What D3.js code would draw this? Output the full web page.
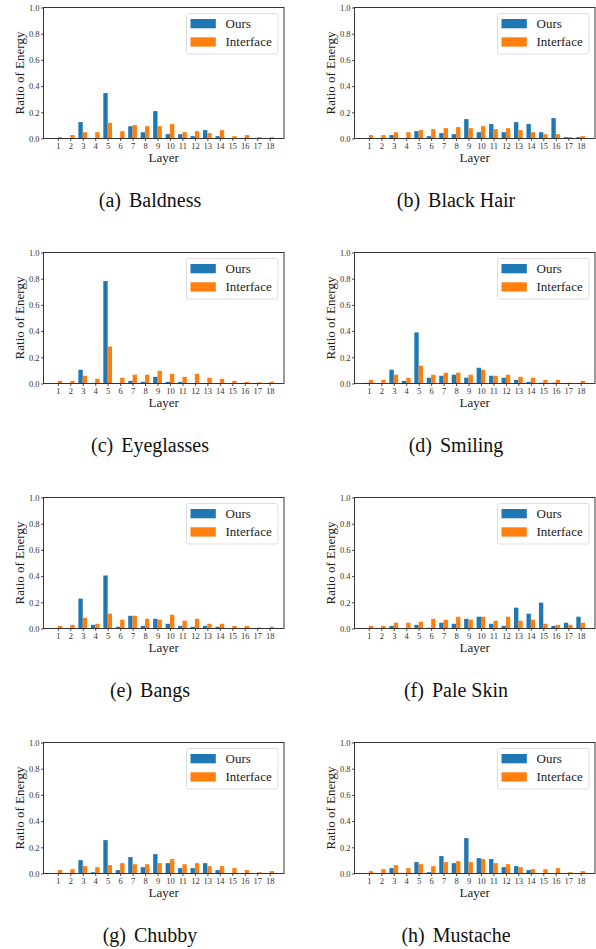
<!DOCTYPE html>
<html>
<head>
<meta charset="utf-8">
<script src="https://cdn.jsdelivr.net/npm/d3@7"></script>
<style>
  body { margin: 0; background: #fff; }
  svg { display: block; }
  text { font-family: "Liberation Serif", "Times New Roman", serif; }
</style>
</head>
<body>
<svg id="chart" width="596" height="949"></svg>
<script>
// layers 1..18
var layers = d3.range(1, 19);
var yTicks = [0, 0.2, 0.4, 0.6, 0.8, 1.0];
var seriesNames = ['Ours', 'Interface'];

// values, one pair of arrays per attribute
var oursBaldness      = [0.002, 0.002, 0.125, 0.003, 0.347, 0.002, 0.094, 0.048, 0.209, 0.033, 0.033, 0.018, 0.064, 0.018, 0.002, 0.002, 0.003, 0.002];
var interfaceBaldness = [0.010, 0.026, 0.048, 0.048, 0.120, 0.056, 0.102, 0.094, 0.094, 0.110, 0.048, 0.056, 0.041, 0.064, 0.018, 0.026, 0.010, 0.010];

var oursBlackHair      = [0.002, 0.003, 0.026, 0.003, 0.056, 0.018, 0.041, 0.033, 0.148, 0.048, 0.110, 0.048, 0.125, 0.110, 0.048, 0.156, 0.010, 0.010];
var interfaceBlackHair = [0.026, 0.026, 0.048, 0.048, 0.064, 0.071, 0.079, 0.087, 0.079, 0.094, 0.071, 0.079, 0.064, 0.048, 0.033, 0.033, 0.010, 0.018];

var oursEyeglasses      = [0.003, 0.003, 0.105, 0.005, 0.782, 0.003, 0.020, 0.013, 0.051, 0.013, 0.013, 0.003, 0.004, 0.003, 0.003, 0.003, 0.003, 0.003];
var interfaceEyeglasses = [0.020, 0.020, 0.059, 0.036, 0.282, 0.044, 0.067, 0.067, 0.097, 0.074, 0.051, 0.074, 0.044, 0.036, 0.020, 0.013, 0.008, 0.013];

var oursSmiling      = [0.005, 0.003, 0.105, 0.020, 0.390, 0.044, 0.059, 0.067, 0.044, 0.120, 0.059, 0.044, 0.028, 0.013, 0.006, 0.006, 0.004, 0.004];
var interfaceSmiling = [0.028, 0.028, 0.067, 0.044, 0.136, 0.067, 0.082, 0.082, 0.067, 0.105, 0.059, 0.067, 0.051, 0.044, 0.028, 0.028, 0.006, 0.020];

var oursBangs      = [0.003, 0.003, 0.228, 0.028, 0.405, 0.013, 0.097, 0.020, 0.074, 0.036, 0.020, 0.013, 0.020, 0.013, 0.003, 0.003, 0.004, 0.003];
var interfaceBangs = [0.020, 0.028, 0.082, 0.036, 0.113, 0.067, 0.097, 0.074, 0.067, 0.105, 0.059, 0.074, 0.036, 0.036, 0.020, 0.020, 0.008, 0.013];

var oursPaleSkin      = [0.002, 0.003, 0.020, 0.003, 0.028, 0.006, 0.044, 0.036, 0.074, 0.090, 0.036, 0.020, 0.159, 0.113, 0.197, 0.020, 0.044, 0.090];
var interfacePaleSkin = [0.020, 0.020, 0.044, 0.044, 0.051, 0.074, 0.067, 0.090, 0.067, 0.090, 0.059, 0.090, 0.059, 0.067, 0.036, 0.028, 0.028, 0.044];

var oursChubby      = [0.002, 0.002, 0.102, 0.010, 0.255, 0.026, 0.125, 0.048, 0.148, 0.079, 0.041, 0.041, 0.079, 0.026, 0.002, 0.002, 0.002, 0.002];
var interfaceChubby = [0.026, 0.033, 0.056, 0.048, 0.064, 0.079, 0.071, 0.071, 0.079, 0.110, 0.071, 0.079, 0.056, 0.056, 0.041, 0.026, 0.010, 0.018];

var oursMustache      = [0.002, 0.002, 0.041, 0.002, 0.087, 0.010, 0.133, 0.079, 0.270, 0.117, 0.110, 0.048, 0.056, 0.026, 0.002, 0.002, 0.002, 0.002];
var interfaceMustache = [0.018, 0.033, 0.064, 0.041, 0.071, 0.056, 0.087, 0.094, 0.087, 0.110, 0.079, 0.071, 0.048, 0.033, 0.033, 0.041, 0.010, 0.018];

var panels = [
  { tag: '(a)', name: 'Baldness',   ours: oursBaldness,   other: interfaceBaldness },
  { tag: '(b)', name: 'Black Hair', ours: oursBlackHair,  other: interfaceBlackHair },
  { tag: '(c)', name: 'Eyeglasses', ours: oursEyeglasses, other: interfaceEyeglasses },
  { tag: '(d)', name: 'Smiling',    ours: oursSmiling,    other: interfaceSmiling },
  { tag: '(e)', name: 'Bangs',      ours: oursBangs,      other: interfaceBangs },
  { tag: '(f)', name: 'Pale Skin',  ours: oursPaleSkin,   other: interfacePaleSkin },
  { tag: '(g)', name: 'Chubby',     ours: oursChubby,     other: interfaceChubby },
  { tag: '(h)', name: 'Mustache',   ours: oursMustache,   other: interfaceMustache }
];

var color = d3.scaleOrdinal().domain(seriesNames).range(['#1f77b4', '#ff7f0e']);

var svg = d3.select('#chart');

// plot geometry
var plotW = 240.5, plotH = 131;
var colLeft = [43.5, 354.5];
var captionX = [150, 456];
var rowTop = 7.5, rowStep = 245;
var barW = 0.35;

var x = d3.scaleLinear().domain([-0.15, 19.15]).range([0, plotW]);
var y = d3.scaleLinear().domain([0, 1]).range([plotH, 0]);

panels.forEach(function(p, k) {
  var col = k % 2, row = Math.floor(k / 2);
  var g = svg.append('g')
    .attr('transform', 'translate(' + colLeft[col] + ',' + (rowTop + row * rowStep) + ')');

  // bars: Ours left of the tick, Interface right of it
  g.selectAll('rect.ours')
    .data(p.ours)
    .enter().append('rect')
    .attr('x', function(d, i) { return x(layers[i] - barW); })
    .attr('width', x(barW) - x(0))
    .attr('y', function(d) { return y(d); })
    .attr('height', function(d) { return y(0) - y(d); })
    .attr('fill', color('Ours'));

  g.selectAll('rect.other')
    .data(p.other)
    .enter().append('rect')
    .attr('x', function(d, i) { return x(layers[i]); })
    .attr('width', x(barW) - x(0))
    .attr('y', function(d) { return y(d); })
    .attr('height', function(d) { return y(0) - y(d); })
    .attr('fill', color('Interface'));

  // axes
  var xAxis = g.append('g')
    .attr('transform', 'translate(0,' + plotH + ')')
    .call(d3.axisBottom(x).tickValues(layers).tickFormat(d3.format('d')).tickSize(2.5).tickPadding(1.5));
  var yAxis = g.append('g')
    .call(d3.axisLeft(y).tickValues(yTicks).tickFormat(d3.format('.1f')).tickSize(2.5).tickPadding(1.5));

  [xAxis, yAxis].forEach(function(a) {
    a.select('.domain').remove();
    a.selectAll('line').attr('stroke', '#222').attr('stroke-width', 0.8);
    a.selectAll('text').attr('font-size', 8.5).attr('fill', '#333')
      .style('font-family', '"Liberation Serif", "Times New Roman", serif');
  });

  // frame
  g.append('rect')
    .attr('width', plotW).attr('height', plotH)
    .attr('fill', 'none').attr('stroke', '#222').attr('stroke-width', 0.9);

  // axis labels
  g.append('text')
    .attr('x', plotW / 2).attr('y', plotH + 23.5)
    .attr('text-anchor', 'middle').attr('font-size', 13).attr('fill', '#222')
    .text('Layer');
  g.append('text')
    .attr('transform', 'translate(-19.5,' + plotH / 2 + ') rotate(-90)')
    .attr('text-anchor', 'middle').attr('font-size', 13).attr('fill', '#222')
    .text('Ratio of Energy');

  // legend
  var lg = g.append('g').attr('transform', 'translate(143,6)');
  lg.append('rect')
    .attr('width', 91.5).attr('height', 40.5).attr('rx', 2)
    .attr('fill', '#fff').attr('fill-opacity', 0.8)
    .attr('stroke', '#d6d6d6').attr('stroke-width', 0.8);
  seriesNames.forEach(function(s, j) {
    lg.append('rect')
      .attr('x', 4).attr('y', 5.5 + j * 18.3)
      .attr('width', 25.3).attr('height', 9.3)
      .attr('fill', color(s));
    lg.append('text')
      .attr('x', 39).attr('y', 14.3 + j * 18.2)
      .attr('font-size', 13).attr('fill', '#222')
      .text(s);
  });

  // subfigure caption
  var cap = svg.append('text')
    .attr('x', captionX[col]).attr('y', 206.7 + row * rowStep)
    .attr('text-anchor', 'middle').attr('font-size', 20).attr('fill', '#111');
  cap.append('tspan').text(p.tag);
  cap.append('tspan').attr('dx', 8).text(p.name);
});
</script>
</body>
</html>
